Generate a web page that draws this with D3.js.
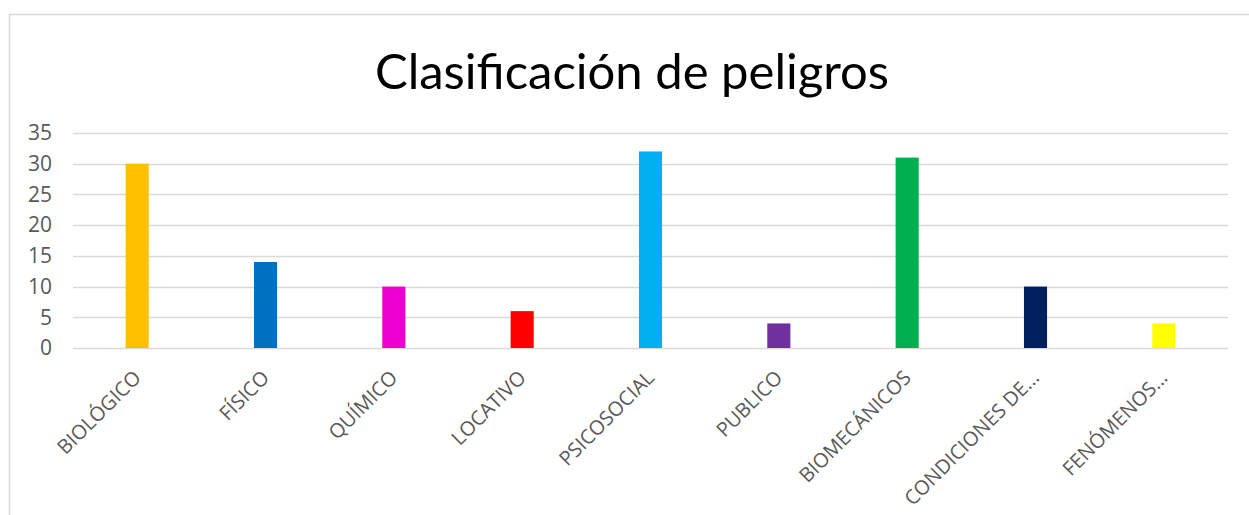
<!DOCTYPE html>
<html>
<head>
<meta charset="utf-8">
<script src="https://cdn.jsdelivr.net/npm/d3@7"></script>
<style>
  body { margin: 0; background: #fff; }
  svg { display: block; }
</style>
</head>
<body>
<script>
// data
var categories = ["BIOLÓGICO", "FÍSICO", "QUÍMICO", "LOCATIVO", "PSICOSOCIAL", "PUBLICO", "BIOMECÁNICOS", "CONDICIONES DE...", "FENÓMENOS..."];
var values = [30, 14, 10, 6, 32, 4, 31, 10, 4];
var barColors = ["#FFC000", "#0070C0", "#F000D0", "#FF0000", "#00B0F0", "#7030A0", "#00B050", "#002060", "#FFFF00"];
var yTicks = [0, 5, 10, 15, 20, 25, 30, 35];

var W = 1249, H = 515;
var margin = { top: 133, right: 21, bottom: 167, left: 73 };
var width = W - margin.left - margin.right;
var height = H - margin.top - margin.bottom;

var svg = d3.select("body").append("svg")
    .attr("width", W)
    .attr("height", H);

// chart frame
svg.append("rect")
    .attr("x", 9.5).attr("y", 14.5)
    .attr("width", W + 20).attr("height", H + 20)
    .attr("fill", "none")
    .attr("stroke", "#d9d9d9")
    .attr("stroke-width", 1.5);

svg.append("text")
    .attr("x", 632)
    .attr("y", 89)
    .attr("text-anchor", "middle")
    .style("font-family", "Lato, 'Open Sans', sans-serif")
    .style("font-size", "49px")
    .attr("fill", "#000")
    .text("Clasificación de peligros");

var g = svg.append("g")
    .attr("transform", "translate(" + margin.left + "," + margin.top + ")");

var x = d3.scaleBand().domain(categories).range([0, width]).paddingInner(0.82).paddingOuter(0.41);
var y = d3.scaleLinear().domain([0, 35]).range([height, 0]);

// gridlines
g.selectAll(".grid")
    .data(yTicks)
    .enter()
    .append("line")
    .attr("class", "grid")
    .attr("x1", 0).attr("x2", width)
    .attr("y1", function (d) { return Math.round(y(d)) + 0.5; })
    .attr("y2", function (d) { return Math.round(y(d)) + 0.5; })
    .attr("stroke", "#d9d9d9")
    .attr("stroke-width", 1.5);

// y axis labels
var yAxis = d3.axisLeft(y).tickValues(yTicks).tickSize(0).tickPadding(21);
g.append("g")
    .attr("class", "y axis")
    .call(yAxis)
    .call(function (s) { s.select(".domain").remove(); })
    .selectAll("text")
    .style("font-family", "'Open Sans', sans-serif")
    .style("font-size", "21px")
    .attr("fill", "#595959");

// bars
g.selectAll(".bar")
    .data(values)
    .enter()
    .append("rect")
    .attr("class", "bar")
    .attr("x", function (d, i) { return x(categories[i]); })
    .attr("y", function (d) { return y(d); })
    .attr("width", x.bandwidth())
    .attr("height", function (d) { return height - y(d); })
    .attr("fill", function (d, i) { return barColors[i]; });

// x axis labels, rotated
var xAxis = d3.axisBottom(x).tickSize(0).tickPadding(0);
g.append("g")
    .attr("class", "x axis")
    .attr("transform", "translate(0," + height + ")")
    .call(xAxis)
    .call(function (s) { s.select(".domain").remove(); })
    .selectAll("text")
    .style("font-family", "'Open Sans', sans-serif")
    .style("font-size", "20px")
    .attr("fill", "#595959")
    .attr("text-anchor", "end")
    .attr("dy", "0")
    .attr("transform", "translate(5,31) rotate(-45)");
</script>
</body>
</html>
